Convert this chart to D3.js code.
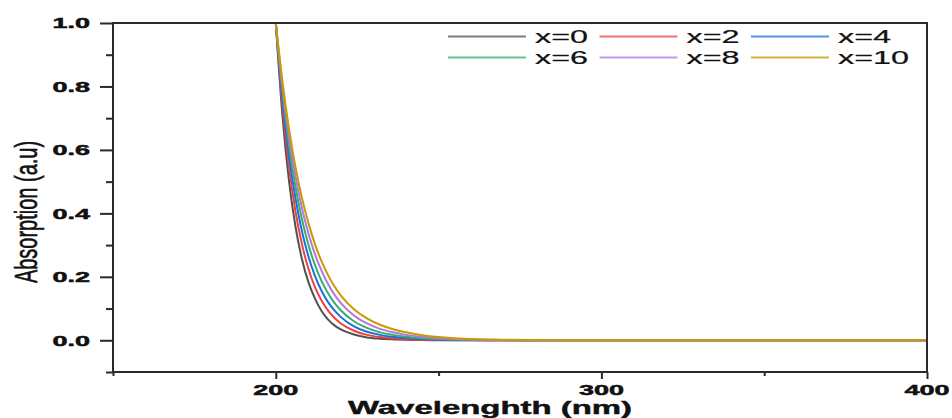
<!DOCTYPE html>
<html>
<head>
<meta charset="utf-8">
<script src="https://cdn.jsdelivr.net/npm/d3@7"></script>
<style>
  html, body { margin: 0; padding: 0; background: #fff; }
  svg { display: block; }
  text { font-family: "Liberation Sans", Arial, sans-serif; fill: #111; }
</style>
</head>
<body>
<svg id="chart" width="952" height="418"></svg>
<script>
// Wavelength grid (nm)
const wavelengths = [200, 202, 204, 206, 208, 210, 212, 214, 216, 218, 220, 224, 228, 232, 236, 240, 245, 250, 260, 270, 280, 300, 400];

// Absorption spectra for each composition
const absX0  = [1, 0.712, 0.507, 0.361, 0.257, 0.184, 0.132, 0.093, 0.066, 0.047, 0.034, 0.018, 0.009, 0.005, 0.003, 0.0015, 0.0007, 0.0003, 0, 0, 0, 0, 0];
const absX2  = [1, 0.742, 0.551, 0.409, 0.304, 0.226, 0.168, 0.126, 0.094, 0.071, 0.053, 0.030, 0.017, 0.010, 0.006, 0.0035, 0.0018, 0.001, 0.0003, 0, 0, 0, 0];
const absX4  = [1, 0.766, 0.587, 0.450, 0.345, 0.265, 0.204, 0.157, 0.121, 0.094, 0.073, 0.044, 0.027, 0.017, 0.011, 0.007, 0.004, 0.0023, 0.0007, 0.0002, 0, 0, 0];
const absX6  = [1, 0.787, 0.619, 0.487, 0.383, 0.302, 0.238, 0.188, 0.149, 0.118, 0.094, 0.060, 0.039, 0.025, 0.017, 0.011, 0.0065, 0.004, 0.0014, 0.0005, 0.0002, 0, 0];
const absX8  = [1, 0.804, 0.647, 0.520, 0.418, 0.337, 0.272, 0.220, 0.178, 0.144, 0.117, 0.078, 0.053, 0.036, 0.025, 0.017, 0.011, 0.0065, 0.0025, 0.0009, 0.0003, 0, 0];
const absX10 = [1, 0.819, 0.670, 0.549, 0.450, 0.370, 0.304, 0.250, 0.206, 0.170, 0.141, 0.098, 0.069, 0.049, 0.035, 0.025, 0.016, 0.010, 0.004, 0.0015, 0.0006, 0.0001, 0];

const seriesLabels = ["x=0", "x=2", "x=4", "x=6", "x=8", "x=10"];
const seriesValues = [absX0, absX2, absX4, absX6, absX8, absX10];

// Axis ticks
const xMajorTicks = [200, 300, 400];
const xMinorTicks = [150, 250, 350];
const yMajorTicks = [0.0, 0.2, 0.4, 0.6, 0.8, 1.0];
const yMinorTicks = [-0.1, 0.1, 0.3, 0.5, 0.7, 0.9];

const xTitle = "Wavelenghth (nm)";
const yTitle = "Absorption (a.u)";

// Line colours
const palette = ["#515151", "#F14040", "#1A6FDF", "#37AD6B", "#B177DE", "#CC9900"];

const svg = d3.select("#chart");
const plot = { left: 113, right: 927, top: 23, bottom: 372 };
const axisColor = "#2a2a2a";
const stretch = 1.8; // horizontal widening of the lettering

const x = d3.scaleLinear().domain([150, 400]).range([plot.left, plot.right]);
const y = d3.scaleLinear().domain([-0.1, 1.0]).range([plot.bottom, plot.top]);

svg.append("defs").append("clipPath").attr("id", "plotClip")
  .append("rect")
  .attr("x", plot.left).attr("y", plot.top)
  .attr("width", plot.right - plot.left).attr("height", plot.bottom - plot.top);

// Spectra
const line = d3.line()
  .x(d => x(d[0]))
  .y(d => y(d[1]))
  .curve(d3.curveMonotoneX);

const curves = svg.append("g").attr("clip-path", "url(#plotClip)");
seriesValues.forEach((vals, i) => {
  curves.append("path")
    .datum(wavelengths.map((w, j) => [w, vals[j]]))
    .attr("d", line)
    .attr("fill", "none")
    .attr("stroke", palette[i])
    .attr("stroke-width", 2)
    .attr("stroke-linejoin", "round");
});

// Axes
const yAxisMajor = d3.axisLeft(y).tickValues(yMajorTicks).tickSize(13).tickFormat("");
const yAxisMinor = d3.axisLeft(y).tickValues(yMinorTicks).tickSize(7).tickFormat("");
const xAxisMajor = d3.axisBottom(x).tickValues(xMajorTicks).tickSize(7).tickFormat("");
const xAxisMinor = d3.axisBottom(x).tickValues(xMinorTicks).tickSize(4).tickFormat("");

function styleAxis(g) {
  g.select(".domain").remove();
  g.selectAll(".tick line").attr("stroke", axisColor).attr("stroke-width", 2);
}
svg.append("g").attr("transform", `translate(${plot.left},0)`).call(yAxisMajor).call(styleAxis);
svg.append("g").attr("transform", `translate(${plot.left},0)`).call(yAxisMinor).call(styleAxis);
svg.append("g").attr("transform", `translate(0,${plot.bottom})`).call(xAxisMajor).call(styleAxis);
svg.append("g").attr("transform", `translate(0,${plot.bottom})`).call(xAxisMinor).call(styleAxis);

// Frame
svg.append("rect")
  .attr("x", plot.left).attr("y", plot.top)
  .attr("width", plot.right - plot.left).attr("height", plot.bottom - plot.top)
  .attr("fill", "none").attr("stroke", axisColor).attr("stroke-width", 2);

// Tick labels
const fmt = d3.format(".1f");
svg.append("g").selectAll("text")
  .data(yMajorTicks).join("text")
  .attr("transform", d => `translate(90,${y(d)}) scale(${stretch},1)`)
  .attr("text-anchor", "end")
  .attr("dy", "0.36em")
  .attr("font-size", 15)
  .attr("font-weight", "bold")
  .attr("stroke", "#111").attr("stroke-width", 0.5)
  .text(d => fmt(d));

svg.append("g").selectAll("text")
  .data(xMajorTicks).join("text")
  .attr("transform", d => `translate(${x(d)},395) scale(${stretch},1)`)
  .attr("text-anchor", "middle")
  .attr("font-size", 15)
  .attr("font-weight", "bold")
  .attr("stroke", "#111").attr("stroke-width", 0.5)
  .text(d => d);

// Axis titles
svg.append("text")
  .attr("transform", `translate(490,414) scale(1.83,1)`)
  .attr("text-anchor", "middle")
  .attr("font-size", 18)
  .attr("font-weight", "bold")
  .attr("stroke", "#111").attr("stroke-width", 0.4)
  .text(xTitle);

svg.append("text")
  .attr("transform", `translate(37,212) scale(1.54,1) rotate(-90)`)
  .attr("text-anchor", "middle")
  .attr("font-size", 20)
  .attr("stroke", "#111").attr("stroke-width", 0.4)
  .text(yTitle);

// Legend: three columns, two rows
const legend = svg.append("g");
seriesLabels.forEach((label, i) => {
  const col = i % 3, row = Math.floor(i / 3);
  const lx = 448 + col * 151.5;
  const ly = 36.5 + row * 21;
  legend.append("line")
    .attr("x1", lx).attr("x2", lx + 78)
    .attr("y1", ly).attr("y2", ly)
    .attr("stroke", palette[i])
    .attr("stroke-width", 2)
    .attr("stroke-opacity", 0.75);
  legend.append("text")
    .attr("transform", `translate(${lx + 87},${ly + 6.5}) scale(1.85,1)`)
    .attr("font-size", 17.5)
    .attr("stroke", "#111").attr("stroke-width", 0.2)
    .text(label);
});
</script>
</body>
</html>
